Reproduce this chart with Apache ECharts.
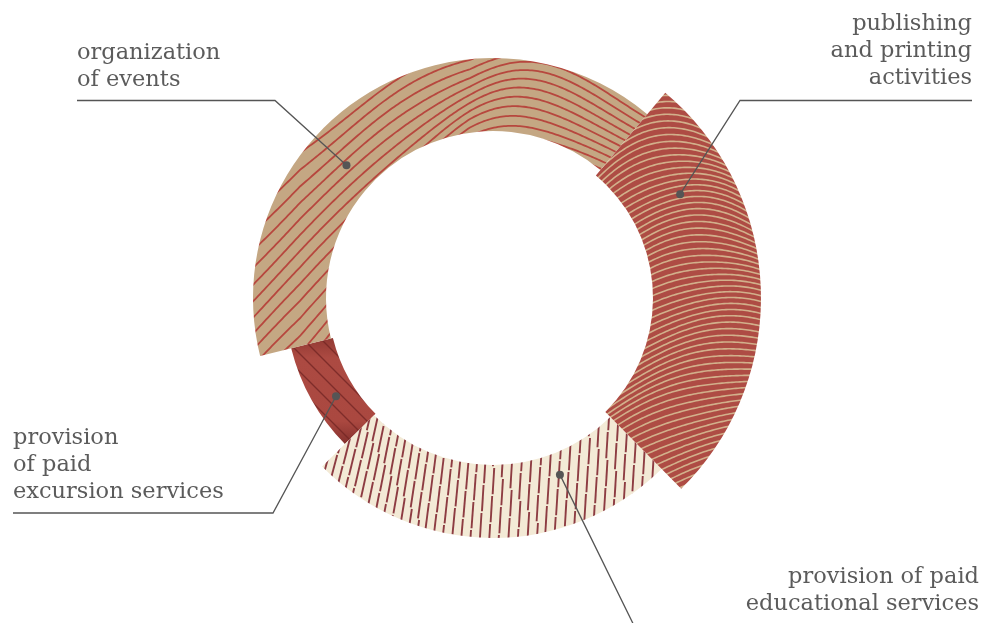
<!DOCTYPE html>
<html><head><meta charset="utf-8">
<script src="https://cdn.jsdelivr.net/npm/echarts@6/dist/echarts.min.js"></script>
<style>html,body{margin:0;padding:0;background:#fff}#c{width:987px;height:623px}</style>
</head><body><div id="c"></div>
<script>
// ---- data ----
const categories = ['organization of events', 'publishing and printing activities', 'provision of paid educational services', 'provision of paid excursion services'];
const shares = [40, 26.5, 25, 8.5];
const labelTexts = [['organization', 'of events'], ['publishing', 'and printing', 'activities'], ['provision of paid', 'educational services'], ['provision', 'of paid', 'excursion services']];

// ---- layout ----
const W = 987, H = 623;
const CX = 493, CY = 298, START = 194;
const radii = [[167, 240], [160, 268], [167, 240], [165, 208]];
const drawOrder = [3, 2, 0, 1];
const anchorFrac = [0.39, 0.22, 0.265, 0.41];
const radFrac = [0.42, 0.5, 0.3, 0.47];
const labelPos = [
  {x: 77, y: 40, align: 'left', line: [[77, 100.5], [275, 100.5]]},
  {x: 972, y: 11, align: 'right', line: [[972, 100.5], [740, 100.5]]},
  {x: 979, y: 564, align: 'right', line: [[979, 650], [646, 650]]},
  {x: 13, y: 425, align: 'left', line: [[13, 513], [273, 513]]}
];
const FONT = '22.5px "DejaVu Serif"';
const TEXT_COLOR = '#5b5b5b', LINE_COLOR = '#555555';

function makeCanvas(fn) {
  const c = document.createElement('canvas');
  c.width = W; c.height = H;
  fn(c.getContext('2d'));
  return c;
}
const clamp01 = t => Math.max(0, Math.min(1, t));
const patterns = [
  makeCanvas(g => { // organization: arching wavy lines
    g.fillStyle = '#C4A783'; g.fillRect(0, 0, W, H);
    g.strokeStyle = '#B7473E'; g.lineWidth = 1.8;
    const xs = [], F = [];
    let f = 90;
    for (let x = 520; x >= 200; x -= 2) {
      const t = clamp01((520 - x) / 170);
      xs.unshift(x); F.unshift(f);
      f += 2 * 1.0 * t * (2 - t);
    }
    f = 90;
    for (let x = 522; x <= 740; x += 2) {
      const t = clamp01((x - 520) / 120);
      f += 2 * 0.6 * t * (2 - t);
      xs.push(x); F.push(f);
    }
    for (let k = -30; k <= 30; k++) {
      g.beginPath();
      xs.forEach((x, idx) => {
        const sp = 9 + 8 * clamp01((470 - x) / 170);
        const y = F[idx] + k * sp + 2.5 * Math.sin(x / 30 + k * 0.4);
        if (idx === 0) g.moveTo(x, y); else g.lineTo(x, y);
      });
      g.stroke();
    }
  }),
  makeCanvas(g => { // publishing: dense arched lines
    g.fillStyle = '#AE4C44'; g.fillRect(0, 0, W, H);
    g.strokeStyle = '#D2B08B'; g.lineWidth = 1.6;
    for (let k = -30; k < 120; k++) {
      const yk = 40 + k * 6.3;
      const d = Math.max(0, yk - 110);
      const px = 668 + d * 0.3;
      const b = Math.max(0.0022, 0.0065 - d * 0.000016);
      g.beginPath();
      for (let x = 570; x <= 790; x += 2) {
        const y = yk + b * (x - px) * (x - px) + 1.5 * Math.sin(x / 25 + k * 0.3);
        if (x === 570) g.moveTo(x, y); else g.lineTo(x, y);
      }
      g.stroke();
    }
  }),
  makeCanvas(g => { // educational: dashed near-vertical strokes
    g.fillStyle = '#F3EAD6'; g.fillRect(0, 0, W, H);
    g.strokeStyle = '#8D3C42'; g.lineWidth = 1.9;
    let col = 0;
    for (let x0 = 300; x0 < 720; x0 += 9.4, col++) {
      const slant = 0.06 + Math.max(0, 480 - x0) * 0.0012;
      const phase = (col * 11) % 28;
      for (let y = 360 + phase; y < 570; y += 28) {
        const y2 = y + 26.3;
        const off = (((col * 7 + Math.round(y) * 3) % 5) - 2) * 0.35;
        g.beginPath();
        g.moveTo(x0 + (560 - y) * slant + off, y);
        g.lineTo(x0 + (560 - y2) * slant + off, y2);
        g.stroke();
      }
    }
  }),
  makeCanvas(g => { // excursion: shaded red with diagonal lines
    const grad = g.createLinearGradient(0, 335, 0, 450);
    grad.addColorStop(0, '#8E3731'); grad.addColorStop(0.2, '#AC4A42');
    grad.addColorStop(0.75, '#AA4840'); grad.addColorStop(1, '#7A2A28');
    g.fillStyle = grad; g.fillRect(0, 0, W, H);
    g.strokeStyle = 'rgba(115,38,36,0.8)'; g.lineWidth = 1.2;
    for (let c = -900; c < 900; c += 18) {
      g.beginPath(); g.moveTo(200, 200 + c); g.lineTo(450, 450 + c); g.stroke();
    }
  })
];

const total = shares.reduce((a, b) => a + b, 0);
let acc = 0;
const sliceStart = [], sliceSpan = [];
shares.forEach(v => { sliceStart.push(START - acc / total * 360); sliceSpan.push(v / total * 360); acc += v; });

const series = drawOrder.map(i => ({
  type: 'pie', center: [CX, CY], radius: radii[i], startAngle: START, clockwise: true,
  silent: true, animation: false, avoidLabelOverlap: false,
  label: {show: false}, labelLine: {show: false}, emphasis: {disabled: true},
  itemStyle: {borderWidth: 0},
  data: categories.map((n, j) => ({
    name: n, value: shares[j],
    itemStyle: j === i ? {color: {image: patterns[i], repeat: 'no-repeat'}, borderWidth: 0} : {color: 'rgba(0,0,0,0)', borderWidth: 0}
  }))
}));

const graphics = [];
categories.forEach((n, i) => {
  const a = (sliceStart[i] - anchorFrac[i] * sliceSpan[i]) * Math.PI / 180;
  const r = radii[i][0] + radFrac[i] * (radii[i][1] - radii[i][0]);
  const ax = CX + r * Math.cos(a), ay = CY - r * Math.sin(a);
  const lp = labelPos[i];
  const pts = i === 2 ? [[ax, ay], [646, 650], [979, 650]] : [lp.line[0], lp.line[1], [ax, ay]];
  graphics.push({type: 'polyline', z: 100, shape: {points: pts}, style: {stroke: LINE_COLOR, lineWidth: 1.3, fill: null}});
  graphics.push({type: 'circle', z: 101, shape: {cx: ax, cy: ay, r: 4}, style: {fill: LINE_COLOR}});
  graphics.push({type: 'text', z: 100, x: lp.x, y: lp.y, style: {
    text: labelTexts[i].join('\n'), font: FONT, fill: TEXT_COLOR, lineHeight: 27,
    textAlign: lp.align, align: lp.align, textVerticalAlign: 'top', verticalAlign: 'top'
  }});
});

const chart = echarts.init(document.getElementById('c'), null, {renderer: 'canvas'});
chart.setOption({backgroundColor: '#ffffff', animation: false, series: series, graphic: graphics});
</script>
</body></html>
